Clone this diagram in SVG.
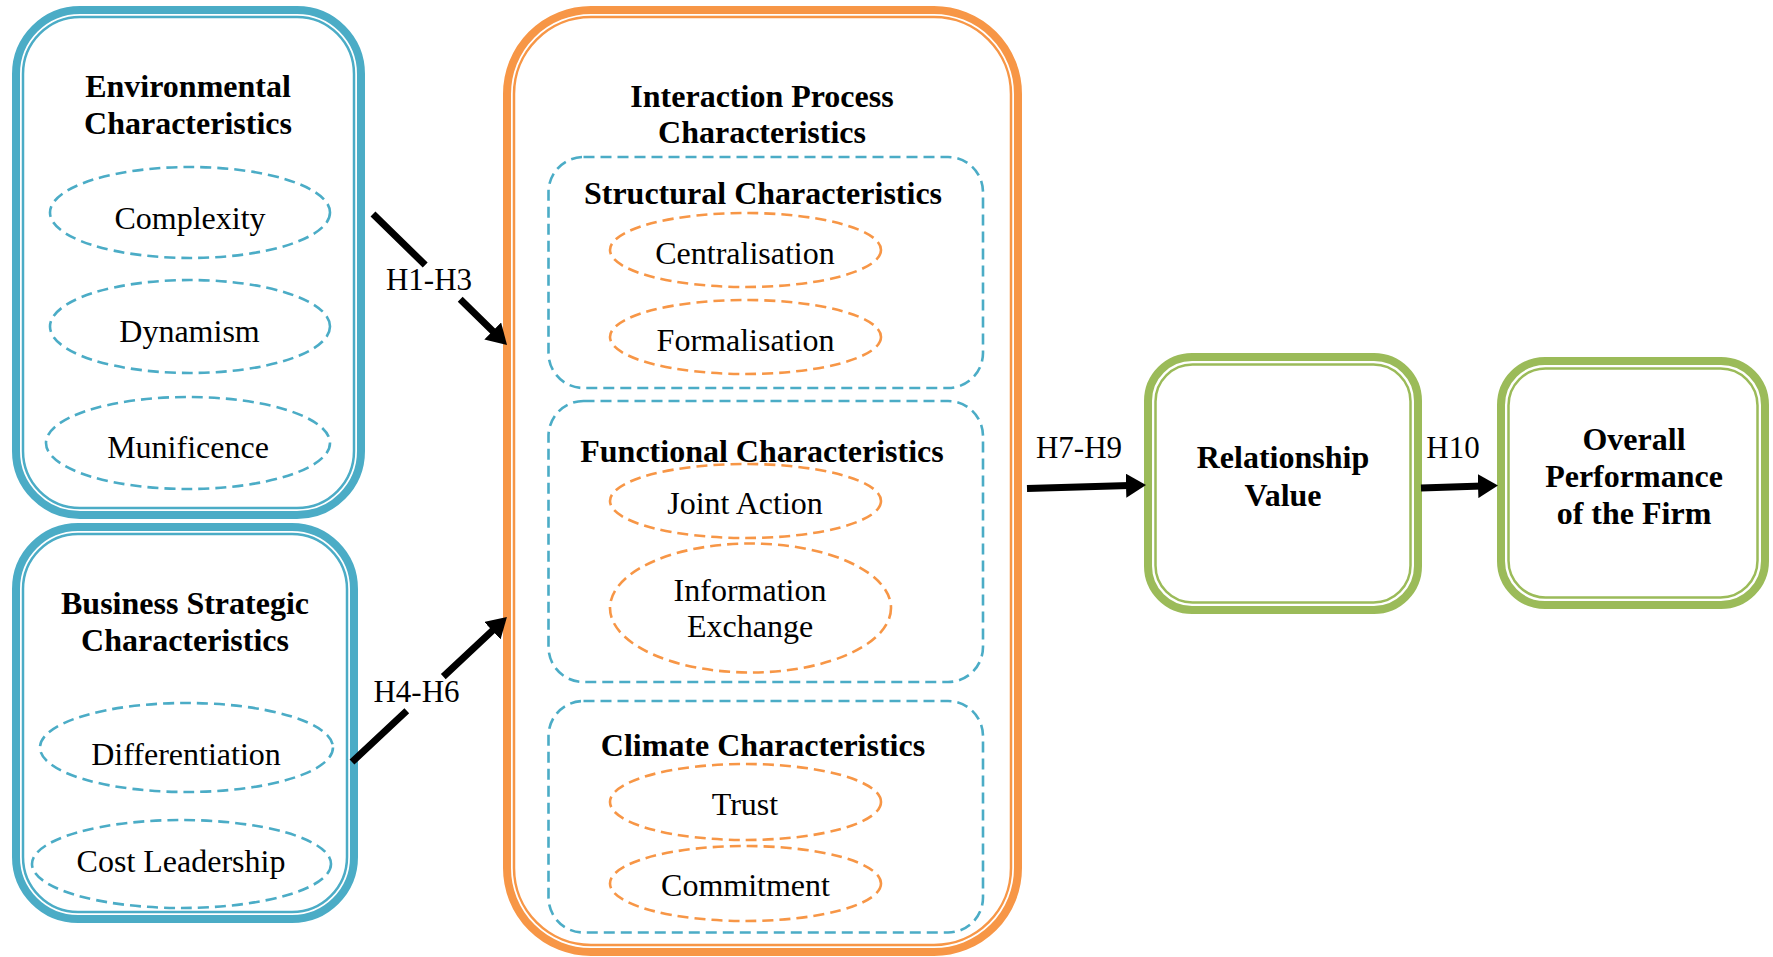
<svg xmlns="http://www.w3.org/2000/svg" width="1773" height="957" viewBox="0 0 1773 957">
  <style>
    .bg { fill: #ffffff; }
    .thick { fill: none; stroke-width: 8; }
    .thin { fill: none; stroke-width: 2.5; }
    .blue { stroke: #4BACC6; }
    .orange { stroke: #F79646; }
    .green { stroke: #9BBB59; }
    .dash { fill: none; stroke-width: 2.6; stroke-dasharray: 11 6; }
    .title { font-family: "Liberation Serif", "Times New Roman", serif; font-weight: bold; font-size: 32px; fill: #000; text-anchor: middle; }
    .item { font-family: "Liberation Serif", "Times New Roman", serif; font-size: 32px; fill: #000; text-anchor: middle; }
    .hyp { font-family: "Liberation Serif", "Times New Roman", serif; font-size: 31px; fill: #000; text-anchor: middle; }
    .link { fill: none; stroke: #000; stroke-width: 7; marker-end: url(#head); }
  </style>
  <defs>
    <marker id="head" markerUnits="userSpaceOnUse" markerWidth="20" markerHeight="24" refX="12" refY="12" orient="auto">
      <path d="M0,0 L20,12 L0,24 Z" fill="#000"/>
    </marker>
  </defs>

  <rect class="bg" x="0" y="0" width="1773" height="957"/>

  <!-- Environmental characteristics -->
  <g id="environmental">
    <rect class="thick blue" x="16" y="10" width="345" height="505" rx="64"/>
    <rect class="thin blue" x="23" y="17" width="331" height="491" rx="57"/>
    <text class="title" x="188" y="97">Environmental</text>
    <text class="title" x="188" y="134">Characteristics</text>
    <ellipse class="dash blue" cx="190" cy="212.5" rx="140" ry="45.5"/>
    <text class="item" x="190" y="229">Complexity</text>
    <ellipse class="dash blue" cx="190" cy="326.5" rx="140" ry="46.5"/>
    <text class="item" x="189.5" y="342">Dynamism</text>
    <ellipse class="dash blue" cx="188" cy="443" rx="142" ry="46"/>
    <text class="item" x="188" y="458">Munificence</text>
  </g>

  <!-- Business strategic characteristics -->
  <g id="business">
    <rect class="thick blue" x="16" y="527" width="338" height="392" rx="62"/>
    <rect class="thin blue" x="23" y="534" width="324" height="378" rx="55"/>
    <text class="title" x="185" y="614">Business Strategic</text>
    <text class="title" x="185" y="651">Characteristics</text>
    <ellipse class="dash blue" cx="186.5" cy="747.5" rx="146.5" ry="44.5"/>
    <text class="item" x="186" y="765">Differentiation</text>
    <ellipse class="dash blue" cx="181.5" cy="864" rx="149.5" ry="44"/>
    <text class="item" x="181" y="872">Cost Leadership</text>
  </g>

  <!-- Interaction process characteristics -->
  <g id="interaction">
    <rect class="thick orange" x="507" y="10" width="511" height="942" rx="84"/>
    <rect class="thin orange" x="514" y="17" width="497" height="928" rx="77"/>
    <text class="title" x="762" y="107">Interaction Process</text>
    <text class="title" x="762" y="143">Characteristics</text>

    <g id="structural">
      <rect class="dash blue" x="548.5" y="157" width="434.5" height="231" rx="35"/>
      <text class="title" x="763" y="204">Structural Characteristics</text>
      <ellipse class="dash orange" cx="745.5" cy="250" rx="135.5" ry="37"/>
      <text class="item" x="745" y="264">Centralisation</text>
      <ellipse class="dash orange" cx="745.5" cy="337" rx="135.5" ry="37"/>
      <text class="item" x="745.5" y="351">Formalisation</text>
    </g>

    <g id="functional">
      <rect class="dash blue" x="548.5" y="401" width="434.5" height="281" rx="35"/>
      <text class="title" x="762" y="462">Functional Characteristics</text>
      <ellipse class="dash orange" cx="745.5" cy="501" rx="135.5" ry="37"/>
      <text class="item" x="745" y="514">Joint Action</text>
      <ellipse class="dash orange" cx="750.5" cy="608" rx="140.5" ry="64.5"/>
      <text class="item" x="750" y="601">Information</text>
      <text class="item" x="750" y="637">Exchange</text>
    </g>

    <g id="climate">
      <rect class="dash blue" x="548.5" y="701" width="434.5" height="231.5" rx="35"/>
      <text class="title" x="763" y="756">Climate Characteristics</text>
      <ellipse class="dash orange" cx="745.5" cy="802" rx="135.5" ry="38"/>
      <text class="item" x="745" y="815">Trust</text>
      <ellipse class="dash orange" cx="745.5" cy="883.5" rx="135.5" ry="37.5"/>
      <text class="item" x="745.5" y="896">Commitment</text>
    </g>
  </g>

  <!-- Relationship value -->
  <g id="relationship">
    <rect class="thick green" x="1148" y="357" width="270" height="253" rx="44"/>
    <rect class="thin green" x="1155.5" y="364.5" width="255" height="238" rx="37"/>
    <text class="title" x="1283" y="468">Relationship</text>
    <text class="title" x="1283" y="506">Value</text>
  </g>

  <!-- Overall performance -->
  <g id="performance">
    <rect class="thick green" x="1501" y="361" width="264" height="244" rx="44"/>
    <rect class="thin green" x="1508.5" y="368.5" width="249" height="229" rx="37"/>
    <text class="title" x="1634" y="450">Overall</text>
    <text class="title" x="1634" y="487">Performance</text>
    <text class="title" x="1634" y="524">of the Firm</text>
  </g>

  <!-- Hypothesis links -->
  <g id="connectors">
    <path class="link" d="M373,214 L425.2,265 M460.2,299.3 L501.3,339.4"/>
    <text class="hyp" x="429" y="290">H1-H3</text>
    <path class="link" d="M352,762 L406.8,710.8 M443.3,676.6 L501.1,622.5"/>
    <text class="hyp" x="416.5" y="702">H4-H6</text>
    <path class="link" d="M1027,488.5 L1138,485.3"/>
    <text class="hyp" x="1079" y="458">H7-H9</text>
    <path class="link" d="M1421,488 L1490,485.7"/>
    <text class="hyp" x="1453" y="458">H10</text>
  </g>
</svg>
